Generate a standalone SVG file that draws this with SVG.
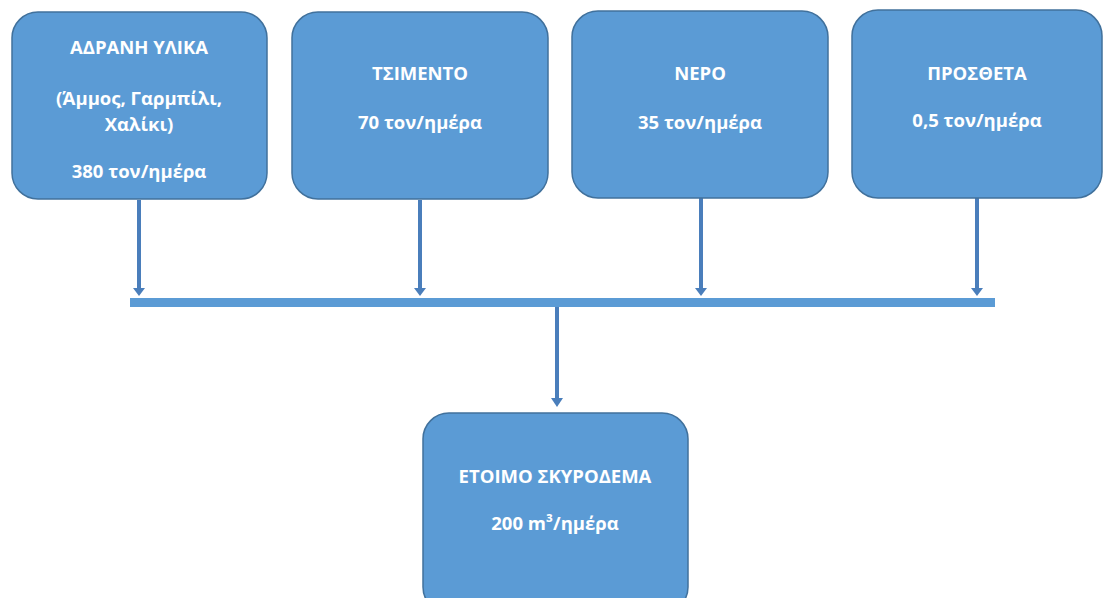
<svg xmlns="http://www.w3.org/2000/svg" width="1103" height="598" viewBox="0 0 1103 598">
<style>
.box{fill:#5b9bd5;stroke:#41719c;stroke-width:1.5}
.t{fill:#ffffff;font-family:"Open Sans","Liberation Sans",sans-serif;font-weight:700;font-size:18.5px;text-anchor:middle}
.c{stroke:#4a7ebb;stroke-width:4;fill:none}
.h{fill:#4a7ebb}
</style>
<rect width="1103" height="598" fill="#ffffff"/>
<g id="connectors">
<rect x="130" y="298" width="865" height="9" fill="#5b9bd5"/>
<line class="c" x1="139" y1="200" x2="139" y2="289"/>
<path class="h" d="M133,288 L145,288 L139,296 Z"/>
<line class="c" x1="420" y1="200" x2="420" y2="289"/>
<path class="h" d="M414,288 L426,288 L420,296 Z"/>
<line class="c" x1="701" y1="198" x2="701" y2="289"/>
<path class="h" d="M695,288 L707,288 L701,296 Z"/>
<line class="c" x1="977" y1="198" x2="977" y2="289"/>
<path class="h" d="M971,288 L983,288 L977,296 Z"/>
<line class="c" x1="557" y1="307" x2="557" y2="399"/>
<path class="h" d="M551,398 L563,398 L557,407 Z"/>
</g>
<g id="node1">
<rect class="box" x="12" y="12" width="255" height="187" rx="26"/>
<text class="t" x="139" y="54">ΑΔΡΑΝΗ ΥΛΙΚΑ</text>
<text class="t" x="139" y="105">(Άμμος, Γαρμπίλι,</text>
<text class="t" x="139" y="131">Χαλίκι)</text>
<text class="t" x="139" y="178">380 τον/ημέρα</text>
</g>
<g id="node2">
<rect class="box" x="292" y="12" width="256" height="187" rx="26"/>
<text class="t" x="420" y="80">ΤΣΙΜΕΝΤΟ</text>
<text class="t" x="420" y="129">70 τον/ημέρα</text>
</g>
<g id="node3">
<rect class="box" x="572" y="11" width="256" height="187" rx="26"/>
<text class="t" x="700" y="80">ΝΕΡΟ</text>
<text class="t" x="700" y="129">35 τον/ημέρα</text>
</g>
<g id="node4">
<rect class="box" x="852" y="10" width="250" height="188" rx="26"/>
<text class="t" x="977" y="80">ΠΡΟΣΘΕΤΑ</text>
<text class="t" x="977" y="127">0,5 τον/ημέρα</text>
</g>
<g id="node5">
<rect class="box" x="423" y="413" width="265" height="200" rx="26"/>
<text class="t" x="555" y="483">ΕΤΟΙΜΟ ΣΚΥΡΟΔΕΜΑ</text>
<text class="t" x="555" y="530">200 m³/ημέρα</text>
</g>
</svg>
